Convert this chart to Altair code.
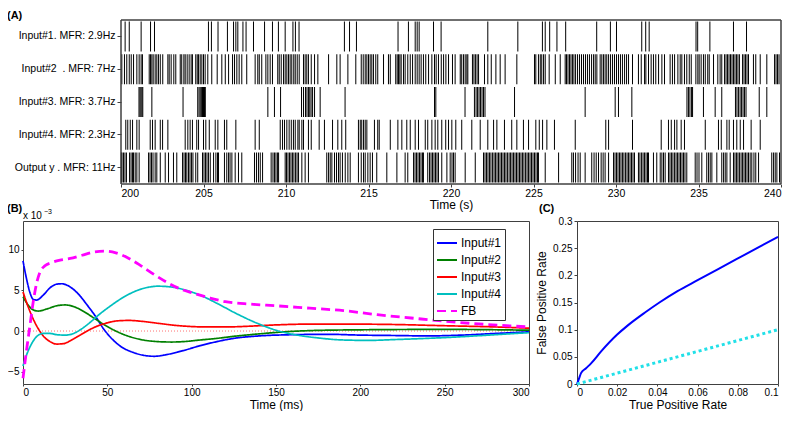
import altair as alt
import pandas as pd

FONT = "Liberation Sans"
AX = "#404040"

# ---------------- Panel A: spike rasters (spike times in s) ----------------
row_labels = ["Input#1. MFR: 2.9Hz", "Input#2 \u00a0. MFR: 7Hz", "Input#3. MFR: 3.7Hz",
              "Input#4. MFR: 2.3Hz", "Output y . MFR: 11Hz"]
time_ticks_s = [200, 205, 210, 215, 220, 225, 230, 235, 240]
time_window = [200, 240]

spikes_in1 = [200.25, 200.50, 201.22, 201.79, 202.03, 205.30, 205.48, 205.88, 206.45, 206.82,
              206.96, 207.08, 207.39, 207.58, 208.03, 208.70, 209.18, 209.54, 209.95, 210.42,
              210.57, 210.79, 213.54, 213.85, 214.27, 216.79, 217.42, 217.83, 217.95, 218.07,
              218.94, 219.40, 222.23, 224.05, 225.54, 225.71, 225.98, 226.42, 226.95, 228.83,
              229.66, 230.03, 231.56, 231.80, 232.01, 234.85, 234.95, 235.69, 237.12, 237.91]

spikes_in2 = [200.05, 200.21, 200.35, 200.50, 200.62, 200.76, 200.96, 201.10, 201.22, 201.30,
              201.71, 201.79, 201.87, 201.95, 202.07, 202.17, 202.27, 202.38, 202.53, 202.84,
              202.92, 203.04, 203.20, 203.32, 203.59, 203.68, 203.81, 203.89, 204.01, 204.13,
              204.25, 204.33, 204.53, 204.62, 204.70, 204.80, 204.90, 205.00, 205.10, 205.26,
              205.50, 205.83, 206.11, 206.32, 206.52, 206.76, 206.88, 207.02, 207.16, 207.32,
              207.62, 208.13, 208.29, 208.38, 208.53, 208.78, 208.90, 209.04, 209.18, 209.50,
              209.59, 209.71, 209.85, 209.95, 210.05, 210.15, 210.25, 210.35, 210.47, 210.56,
              210.68, 210.80, 211.06, 211.16, 211.26, 211.36, 211.53, 211.73, 211.93, 212.58,
              213.08, 213.28, 213.75, 214.23, 214.56, 214.68, 214.80, 214.90, 215.00, 215.10,
              215.20, 215.30, 215.44, 215.56, 215.91, 216.21, 216.32, 216.65, 216.74, 216.82,
              216.90, 216.98, 217.12, 217.22, 217.38, 217.53, 217.67, 217.83, 217.95, 218.07,
              218.19, 218.33, 218.47, 218.64, 218.84, 219.00, 219.10, 219.24, 219.41, 219.55,
              219.69, 219.85, 220.09, 220.25, 220.56, 220.65, 220.76, 220.86, 220.96, 221.02,
              221.30, 221.39, 221.48, 221.58, 221.67, 222.03, 222.23, 222.44, 222.72, 222.98,
              223.28, 223.99, 225.06, 225.14, 225.30, 225.41, 225.50, 225.61, 225.71, 225.95,
              226.32, 226.62, 226.92, 227.00, 227.09, 227.18, 227.27, 227.36, 227.45, 227.55,
              227.67, 227.79, 227.91, 228.03, 228.15, 228.27, 228.39, 228.52, 228.64, 228.74,
              228.84, 229.04, 229.14, 229.24, 229.34, 229.44, 229.55, 229.67, 229.79, 229.91,
              230.03, 230.15, 230.27, 230.39, 230.52, 230.64, 230.76, 231.00, 231.36, 231.53,
              231.73, 231.81, 231.97, 232.13, 232.27, 232.41, 232.58, 232.78, 232.94, 233.28,
              233.42, 233.55, 233.75, 233.89, 233.99, 234.15, 234.29, 234.44, 234.56, 234.84,
              234.96, 235.04, 235.16, 235.30, 235.41, 235.56, 235.65, 235.91, 236.17, 236.31,
              236.41, 236.58, 236.67, 236.76, 236.85, 236.94, 237.03, 237.12, 237.21, 237.30,
              237.39, 237.48, 237.67, 237.76, 237.85, 237.94, 238.03, 238.33, 238.47, 238.74,
              239.14, 239.61, 239.70, 239.79, 239.88]

spikes_in3 = [201.09, 201.15, 201.21, 201.27, 201.32, 201.87, 203.76, 204.65, 204.73, 204.80,
              204.87, 204.94, 205.00, 205.06, 205.11, 208.90, 209.30, 209.67, 210.94, 211.06,
              211.18, 211.27, 211.36, 211.44, 211.52, 211.61, 211.73, 212.07, 213.58, 219.00,
              219.08, 220.85, 221.42, 221.52, 221.61, 221.70, 221.79, 221.88, 221.97, 222.06,
              223.85, 228.13, 229.95, 230.15, 230.96, 234.30, 234.39, 234.48, 234.58, 234.64,
              235.30, 236.01, 236.41, 237.24, 237.33, 237.42, 237.52, 237.61, 237.70, 237.79,
              237.88, 238.68, 239.14]

spikes_in4 = [200.29, 200.41, 200.56, 200.70, 200.96, 201.10, 201.77, 201.91, 202.07, 202.38,
              202.52, 202.84, 203.89, 204.05, 204.19, 204.33, 204.59, 204.70, 205.00, 205.14,
              205.35, 205.71, 205.87, 206.27, 206.41, 206.96, 208.13, 208.38, 209.65, 209.79,
              209.91, 210.05, 210.19, 210.32, 210.45, 210.56, 210.72, 210.80, 210.96, 211.06,
              211.36, 211.53, 212.01, 212.33, 212.82, 213.14, 213.38, 213.62, 214.39, 214.50,
              214.59, 214.70, 214.80, 214.90, 215.36, 215.56, 215.65, 216.32, 216.78, 217.02,
              217.32, 217.53, 217.83, 218.03, 218.44, 218.59, 218.84, 219.04, 219.20, 219.44,
              219.68, 219.85, 220.05, 220.29, 220.65, 221.26, 221.77, 222.23, 222.58, 222.78,
              223.24, 223.68, 223.99, 224.39, 224.70, 225.14, 225.35, 225.55, 225.81, 226.27,
              227.53, 229.38, 229.55, 231.00, 232.74, 233.18, 233.35, 233.55, 233.69, 233.95,
              234.15, 235.41, 236.21, 236.38, 236.72, 236.86, 237.12, 237.32, 237.53, 237.73,
              238.19, 238.74]

spikes_out = [200.02, 200.06, 200.15, 200.24, 200.33, 200.52, 200.61, 200.70, 200.76, 200.86,
              200.96, 201.10, 201.67, 201.76, 201.85, 201.94, 202.07, 202.17, 202.38, 202.68,
              202.88, 203.18, 203.38, 203.73, 203.82, 203.91, 203.99, 204.09, 204.18, 204.27,
              204.36, 204.53, 204.65, 204.94, 205.03, 205.12, 205.21, 205.30, 205.41, 205.61,
              205.75, 205.85, 205.91, 206.27, 206.41, 206.52, 206.61, 206.72, 206.92, 207.12,
              207.32, 208.09, 208.21, 208.33, 208.44, 208.58, 209.10, 209.21, 209.30, 209.39,
              209.48, 209.55, 209.95, 210.03, 210.12, 210.21, 210.30, 210.39, 210.48, 210.58,
              210.67, 210.76, 210.96, 211.16, 211.36, 212.47, 212.58, 212.68, 212.78, 212.94,
              213.06, 213.18, 213.28, 213.42, 213.59, 213.75, 213.89, 214.39, 214.56, 214.70,
              214.80, 214.96, 215.10, 215.24, 215.50, 216.11, 216.72, 217.22, 217.38, 217.73,
              217.82, 217.91, 218.00, 218.09, 218.18, 218.27, 218.33, 218.59, 218.70, 218.79,
              218.88, 218.97, 219.06, 219.15, 219.24, 219.44, 219.75, 219.95, 220.06, 220.15,
              220.25, 220.86, 221.47, 221.97, 222.06, 222.15, 222.24, 222.33, 222.42, 222.52,
              222.61, 222.70, 222.79, 222.88, 222.97, 223.06, 223.15, 223.24, 223.33, 223.42,
              223.52, 223.61, 223.70, 223.79, 223.88, 223.97, 224.06, 224.15, 224.24, 224.33,
              224.42, 224.52, 224.61, 224.70, 224.79, 224.88, 224.97, 225.06, 225.15, 225.24,
              225.30, 225.71, 226.52, 227.32, 227.42, 227.55, 227.70, 227.83, 228.13, 228.53,
              228.67, 228.80, 228.94, 229.10, 229.22, 229.34, 229.55, 229.85, 229.94, 230.03,
              230.12, 230.21, 230.30, 230.39, 230.48, 230.58, 230.67, 230.76, 230.85, 230.94,
              231.03, 231.12, 231.36, 231.45, 231.55, 231.64, 231.73, 231.82, 231.91, 231.97,
              232.27, 232.47, 232.68, 232.78, 232.88, 232.98, 233.18, 233.27, 233.36, 233.45,
              233.55, 233.64, 233.73, 233.82, 233.91, 234.00, 234.09, 234.18, 234.29, 234.80,
              234.91, 235.03, 235.20, 235.50, 235.61, 235.71, 235.81, 236.11, 236.41, 236.52,
              236.62, 236.72, 236.92, 237.12, 237.21, 237.30, 237.39, 237.48, 237.58, 237.67,
              237.76, 237.85, 237.94, 238.03, 238.13, 238.23, 238.36, 238.47, 238.64, 239.44,
              239.55, 239.65, 239.75, 239.91]

# ---------------- Panel B: kernels (x 10^-3) ----------------
series_names = ["Input#1", "Input#2", "Input#3", "Input#4", "FB"]
series_colors = ["#0000ff", "#008000", "#ff0000", "#00bfbf", "#ff00ff"]
series_dashes = [[1, 0], [1, 0], [1, 0], [1, 0], [9, 5]]

in1_ms = [0, 2, 4, 6, 8, 12, 16, 20, 23, 28, 33, 38, 43, 48, 52, 58, 65, 72, 78, 85, 95, 105,
          115, 125, 140, 160, 180, 200, 220, 240, 260, 280, 300]
in1_val = [8.6, 6.5, 4.8, 3.9, 3.8, 4.4, 5.3, 5.75, 5.8, 5.4, 4.5, 3.2, 1.8, 0.2, -0.8, -1.9,
           -2.6, -3.0, -3.1, -2.9, -2.4, -1.8, -1.3, -0.9, -0.6, -0.45, -0.4, -0.5, -0.55,
           -0.6, -0.5, -0.3, -0.1]

in2_ms = [0, 3, 6, 9, 14, 20, 25, 30, 36, 42, 48, 55, 62, 70, 80, 88, 95, 105, 115, 125, 140,
          155, 170, 200, 250, 300]
in2_val = [4.2, 3.2, 2.6, 2.45, 2.7, 3.1, 3.2, 3.0, 2.4, 1.6, 0.8, 0.0, -0.6, -1.05, -1.3,
           -1.35, -1.3, -1.1, -0.9, -0.65, -0.35, -0.1, 0.05, 0.15, 0.2, 0.1]

in3_ms = [0, 3, 6, 9, 12, 16, 20, 24, 28, 33, 38, 44, 50, 56, 63, 70, 80, 90, 100, 110, 120,
          135, 150, 170, 190, 220, 250, 280, 300]
in3_val = [4.8, 3.0, 1.5, 0.3, -0.6, -1.3, -1.6, -1.55, -1.2, -0.6, 0.0, 0.6, 1.0, 1.25, 1.3,
           1.2, 0.95, 0.7, 0.55, 0.5, 0.5, 0.6, 0.75, 0.85, 0.85, 0.8, 0.65, 0.5, 0.35]

in4_ms = [0, 2, 5, 8, 12, 16, 20, 25, 30, 35, 40, 45, 52, 60, 68, 75, 80, 88, 95, 105, 115,
          125, 135, 145, 150, 160, 175, 190, 205, 220, 240, 260, 280, 300]
in4_val = [-4.3, -3.0, -1.6, -0.7, -0.3, -0.3, -0.45, -0.5, -0.3, 0.3, 1.1, 2.0, 3.1, 4.2,
           5.0, 5.4, 5.5, 5.4, 5.1, 4.4, 3.4, 2.3, 1.3, 0.45, 0.1, -0.4, -0.85, -1.1, -1.15,
           -1.05, -0.9, -0.7, -0.45, -0.2]

fb_ms = [0, 2, 4, 6, 8, 10, 13, 17, 22, 28, 35, 42, 48, 55, 62, 70, 78, 86, 94, 100, 110,
         120, 135, 150, 170, 190, 210, 230, 250, 275, 300]
fb_val = [-5.8, -2.5, 0.5, 3.5, 5.8, 7.2, 8.0, 8.4, 8.7, 8.9, 9.3, 9.7, 9.8, 9.6, 9.0, 8.0,
          6.9, 5.9, 5.1, 4.7, 4.1, 3.6, 3.3, 3.1, 2.8, 2.5, 2.0, 1.6, 1.2, 0.8, 0.5]

ms_ticks = [0, 50, 100, 150, 200, 250, 300]
kern_ticks = [-5, 0, 5, 10]

# ---------------- Panel C: ROC ----------------
roc_x = [0, 0.001, 0.002, 0.0045, 0.007, 0.012, 0.02, 0.025, 0.034, 0.041, 0.05, 0.06, 0.07,
         0.08, 0.09, 0.1]
roc_y = [0, 0.01, 0.02, 0.029, 0.038, 0.06, 0.091, 0.107, 0.132, 0.150, 0.171, 0.191, 0.211,
         0.231, 0.251, 0.271]
chance_x = [0, 0.1]
chance_y = [0, 0.1]
roc_xticks = [0, 0.02, 0.04, 0.06, 0.08, 0.1]
roc_yticks = [0, 0.05, 0.1, 0.15, 0.2, 0.25, 0.3]


def text_layer(txt, x, y, size=11, weight="bold"):
    return alt.Chart(pd.DataFrame({"s": [txt]})).mark_text(
        align="left", baseline="alphabetic", font=FONT, fontSize=size,
        fontWeight=weight, color="black"
    ).encode(text="s:N", x=alt.value(x), y=alt.value(y))


# ---- Panel A (plot origin shared with panel B; raster drawn in x range 98..758)
A_W, A_H = 760, 164
recs = []
for lab, sp in zip(row_labels, [spikes_in1, spikes_in2, spikes_in3, spikes_in4, spikes_out]):
    recs += [{"t": t, "row": lab} for t in sp]
dfA = pd.DataFrame(recs)

xA = alt.X("t:Q", scale=alt.Scale(domain=time_window, range=[98, 758], nice=False, zero=False),
           axis=alt.Axis(values=time_ticks_s, format="d", title="Time (s)",
                         labelFontSize=10.5, titleFontSize=12, tickSize=3,
                         labelPadding=1, titlePadding=1))
raster = alt.Chart(dfA).mark_tick(color="black", thickness=1, size=30, opacity=1).encode(
    x=xA,
    y=alt.Y("row:N", sort=row_labels, scale=alt.Scale(paddingInner=0, paddingOuter=0),
            axis=alt.Axis(title=None, labelFontSize=10.5, tickSize=4, labelPadding=2,
                          offset=-98)),
)
frameA = alt.Chart(pd.DataFrame({"t": time_window})).mark_rect(
    fillOpacity=0, stroke=AX, strokeWidth=1
).encode(x=alt.datum(time_window[0]), x2=alt.datum(time_window[1]),
         y=alt.value(0), y2=alt.value(A_H))
panelA = alt.layer(raster, frameA, text_layer("(A)", -16, -1)).properties(
    width=A_W, height=A_H, view=alt.ViewBackground(stroke="transparent"))

# ---- Panel B
def long_df(names, xs, ys):
    out = []
    for n, xx, yy in zip(names, xs, ys):
        out += [{"series": n, "ms": a, "v": b} for a, b in zip(xx, yy)]
    return pd.DataFrame(out)

dfB_in = long_df(series_names[:4], [in1_ms, in2_ms, in3_ms, in4_ms],
                 [in1_val, in2_val, in3_val, in4_val])
dfB_fb = long_df(["FB"], [fb_ms], [fb_val])

legB = dict(orient="none", legendX=410, legendY=8, title=None, labelFont=FONT,
            labelFontSize=12, labelColor="black", symbolType="stroke", symbolSize=400,
            symbolStrokeWidth=2, rowPadding=0, padding=3, strokeColor="#333333",
            fillColor="white", labelOffset=3)

xB = alt.X("ms:Q", scale=alt.Scale(domain=[0, 300], nice=False),
           axis=alt.Axis(values=ms_ticks, title="Time (ms)", labelFontSize=10,
                         titleFontSize=12, tickSize=2, labelPadding=1, titlePadding=2))
yB = alt.Y("v:Q", scale=alt.Scale(domain=[-6.5, 13.5], nice=False, zero=False),
           axis=alt.Axis(values=kern_ticks, title=None, labelFontSize=10, tickSize=2,
                         labelPadding=2))
colB = alt.Color("series:N", scale=alt.Scale(domain=series_names, range=series_colors),
                 legend=alt.Legend(**legB))
dashB = alt.StrokeDash("series:N", scale=alt.Scale(domain=series_names, range=series_dashes),
                       legend=alt.Legend(**legB))

zero = alt.Chart(pd.DataFrame({"v": [0]})).mark_rule(
    color="#ff4d4d", strokeDash=[1, 2], strokeWidth=0.8).encode(y=alt.Y("v:Q"))
lines_in = alt.Chart(dfB_in).mark_line(strokeWidth=1.7, interpolate="monotone").encode(
    x=xB, y=yB, color=colB, strokeDash=dashB)
line_fb = alt.Chart(dfB_fb).mark_line(strokeWidth=2.8, interpolate="monotone").encode(
    x=xB, y=yB, color=colB, strokeDash=dashB)

panelB = alt.layer(
    zero, lines_in, line_fb,
    text_layer("(B)", -16, -9),
    text_layer("x 10", 0, -2, size=10, weight="normal"),
    text_layer("\u22123", 21, -7, size=7, weight="normal"),
).properties(width=506, height=163)

# ---- Panel C
dfC = pd.DataFrame({"x": roc_x, "y": roc_y})
dfChance = pd.DataFrame({"x": chance_x, "y": chance_y})
xC = alt.X("x:Q", scale=alt.Scale(domain=[0, 0.1], nice=False),
           axis=alt.Axis(values=roc_xticks, format="~g", title="True Positive Rate",
                         labelFontSize=10, titleFontSize=12, tickSize=2, labelPadding=1,
                         titlePadding=2))
yC = alt.Y("y:Q", scale=alt.Scale(domain=[0, 0.3], nice=False),
           axis=alt.Axis(values=roc_yticks, format="~g", title="False Positive Rate",
                         labelFontSize=10, titleFontSize=12, tickSize=3, labelPadding=2,
                         titlePadding=4))
roc = alt.Chart(dfC).mark_line(color="#0000ff", strokeWidth=2, interpolate="monotone").encode(x=xC, y=yC)
chance = alt.Chart(dfChance).mark_line(color="#22e0e8", strokeWidth=3, strokeDash=[3, 3]).encode(x=xC, y=yC)
panelC = alt.layer(roc, chance, text_layer("(C)", -38, -9)).properties(width=201, height=163)

rowBC = alt.hconcat(panelB, panelC, spacing=-1).resolve_scale(
    color="independent", strokeDash="independent")

chart = alt.vconcat(
    panelA, rowBC, spacing=-9,
).resolve_scale(
    color="independent", strokeDash="independent"
).properties(
    padding={"left": -2, "top": 1, "right": 0, "bottom": 0}
).configure_view(
    stroke=AX, strokeWidth=1
).configure_axis(
    labelFont=FONT, titleFont=FONT, labelColor="black", titleColor="black",
    titleFontWeight="normal", grid=False, domain=False, tickColor=AX
)

chart.save("out.html", embed_options={"renderer": "svg", "actions": False})
